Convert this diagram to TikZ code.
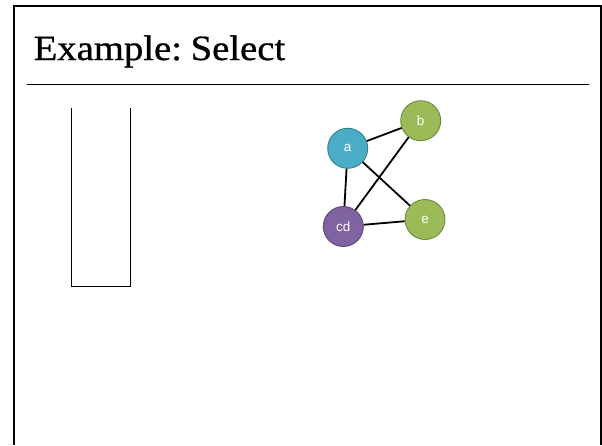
\documentclass[tikz,border=0pt]{standalone}
\usepackage{fontspec}
\setmainfont{Liberation Serif}
\newfontfamily\titlefont[FakeStretch=1.09,FakeBold=0.8]{Liberation Serif}
\newfontfamily\nodefont{Liberation Sans}
\definecolor{aqua}{HTML}{4BACC6}
\definecolor{aquaedge}{HTML}{357D91}
\definecolor{olive}{HTML}{9BBB59}
\definecolor{oliveedge}{HTML}{71893F}
\definecolor{plum}{HTML}{8064A2}
\definecolor{plumedge}{HTML}{5C4776}
\tikzset{
  vert/.style={circle, minimum size=40pt, inner sep=0pt, line width=0.9pt, text=white, font=\nodefont\fontsize{13.5}{13.5}\selectfont},
  aquav/.style={vert, fill=aqua, draw=aquaedge},
  olivev/.style={vert, fill=olive, draw=oliveedge},
  plumv/.style={vert, fill=plum, draw=plumedge},
  edge/.style={line width=1.8pt, black},
  frameline/.style={line width=2pt, black},
  thin/.style={line width=1pt, black}
}
\begin{document}
\begin{tikzpicture}[x=1pt,y=-1pt]
\useasboundingbox (0,0) rectangle (602,445);
\fill[white] (0,0) rectangle (602,445);
% frame
\draw[frameline] (14,445) -- (14,5.5) -- (600.5,5.5) -- (600.5,445);
% title
\node[anchor=base west, inner sep=0pt, font=\titlefont\fontsize{35.5}{35.5}\selectfont] (title) at (33.5,60) {Example:\hspace{-0.12em} Select};
\draw[thin] (27,84) -- (589,84);
% open box
\draw[thin] (71.3,108) -- (71.3,286.3) -- (130.3,286.3) -- (130.3,108);
% graph
\node[aquav] (a) at (347.7,148.3) {a};
\node[olivev] (b) at (420.7,120.7) {b};
\node[plumv] (cd) at (343.3,226.5) {cd};
\node[olivev] (e) at (425,219.5) {e};
\draw[edge] (a) -- (b);
\draw[edge] (a) -- (cd);
\draw[edge] (a) -- (e);
\draw[edge] (b) -- (cd);
\draw[edge] (cd) -- (e);
\end{tikzpicture}
\end{document}
